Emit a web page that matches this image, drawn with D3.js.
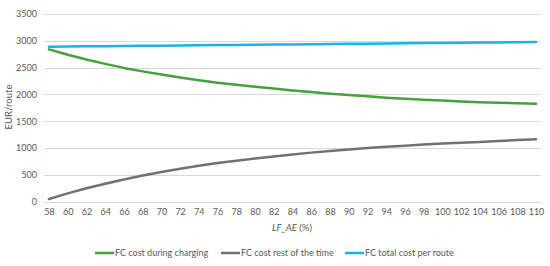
<!DOCTYPE html>
<meta charset="utf-8">
<head>
  <title>FC cost</title>
  <style>
  body { margin: 0; background: #fff; }
  text { font-family: Lato, sans-serif; fill: #595959; }
  .grid line { stroke: #d9d9d9; stroke-width: 1px; }
  .line { fill: none; stroke-width: 2.5px; stroke-linejoin: round; stroke-linecap: round; }
  </style>
</head>
<html>
  <body>
    <svg width="550" height="266"></svg>
  </body>
</html>
<script src="https://d3js.org/d3.v7.min.js"></script>
<script>
// LF_AE (%) categories
var lfAE = [58, 60, 62, 64, 66, 68, 70, 72, 74, 76, 78, 80, 82, 84, 86, 88, 90, 92, 94, 96, 98, 100, 102, 104, 106, 108, 110];

var costCharging = [2840, 2740, 2650, 2570, 2495, 2430, 2370, 2315, 2265, 2220, 2180, 2145, 2110, 2075, 2045, 2015, 1990, 1965, 1940, 1920, 1900, 1885, 1870, 1855, 1845, 1835, 1825];
var costRest = [50, 155, 250, 335, 415, 490, 555, 615, 670, 720, 765, 805, 845, 880, 915, 945, 975, 1000, 1025, 1045, 1065, 1085, 1100, 1115, 1130, 1150, 1165];
var costTotal = [2890, 2893, 2897, 2900, 2903, 2907, 2910, 2913, 2917, 2920, 2923, 2927, 2930, 2933, 2937, 2940, 2943, 2947, 2950, 2953, 2957, 2960, 2963, 2967, 2970, 2975, 2980];

var yTicks = [0, 500, 1000, 1500, 2000, 2500, 3000, 3500];

var series = [
  {name: "FC cost during charging", values: costCharging, color: "#43a23b"},
  {name: "FC cost rest of the time", values: costRest, color: "#717171"},
  {name: "FC total cost per route", values: costTotal, color: "#1fb0e6"}
];

var svg = d3.select("svg");

var x = d3.scalePoint()
    .domain(lfAE)
    .range([49, 536]);

var y = d3.scaleLinear()
    .domain([0, 3500])
    .range([201.7, 14]);

// gridlines
svg.append("g")
    .attr("class", "grid")
  .selectAll("line")
  .data(yTicks)
  .enter().append("line")
    .attr("x1", 44)
    .attr("x2", 541)
    .attr("y1", function(d) { return Math.round(y(d)) + 0.5; })
    .attr("y2", function(d) { return Math.round(y(d)) + 0.5; });

// y axis labels
var yAxis = svg.append("g")
    .attr("transform", "translate(44,0)")
    .call(d3.axisLeft(y).tickValues(yTicks).tickFormat(d3.format("d")).tickSize(0).tickPadding(7));
yAxis.select(".domain").remove();
yAxis.selectAll("text").style("font-size", "9px");

// x axis labels
var xAxis = svg.append("g")
    .attr("transform", "translate(0,209)")
    .call(d3.axisBottom(x).tickSize(0).tickPadding(0));
xAxis.select(".domain").remove();
xAxis.selectAll("text").style("font-size", "9px").attr("dy", "0.71em");

// axis titles
svg.append("text")
    .attr("transform", "translate(9,107) rotate(-90)")
    .attr("text-anchor", "middle")
    .attr("dy", "0.35em")
    .style("font-size", "9.5px")
    .text("EUR/route");

var xt = svg.append("text")
    .attr("x", 292)
    .attr("y", 228)
    .attr("text-anchor", "middle")
    .attr("dy", "0.35em")
    .style("font-size", "9.5px");
xt.append("tspan").style("font-style", "italic").text("LF_AE");
xt.append("tspan").text(" (%)");

// lines
var line = d3.line()
    .x(function(d, i) { return x(lfAE[i]); })
    .y(function(d) { return y(d); });

svg.selectAll("path.line")
  .data(series)
  .enter().append("path")
    .attr("class", "line")
    .attr("stroke", function(d) { return d.color; })
    .attr("d", function(d) { return line(d.values); });

// legend
var legendX = [95, 221, 345];
var legend = svg.selectAll("g.legend")
  .data(series)
  .enter().append("g")
    .attr("class", "legend")
    .attr("transform", function(d, i) { return "translate(" + legendX[i] + ",253)"; });

legend.append("line")
    .attr("x1", 0)
    .attr("x2", 19)
    .attr("stroke", function(d) { return d.color; })
    .attr("stroke-width", 2.5);

legend.append("text")
    .attr("x", 20)
    .attr("dy", "0.35em")
    .style("font-size", "9px")
    .text(function(d) { return d.name; });
</script>
